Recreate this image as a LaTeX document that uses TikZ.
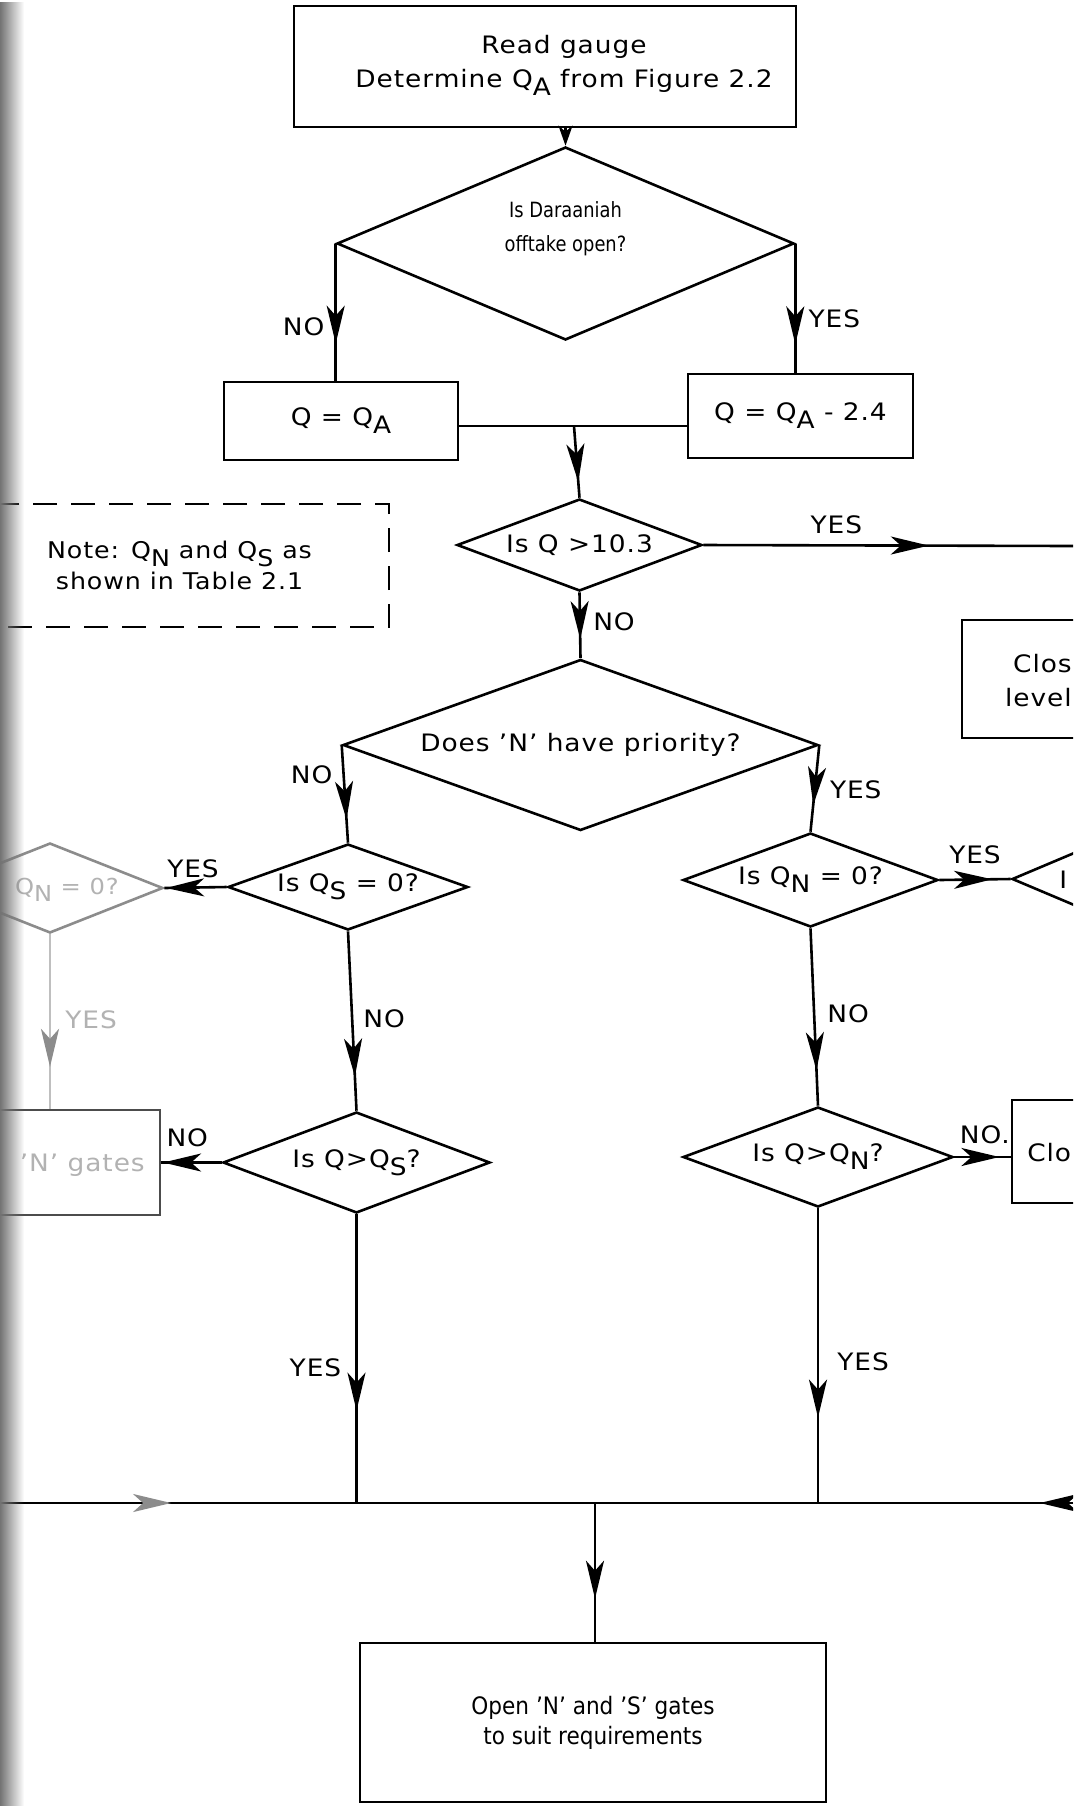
\documentclass[tikz,border=0pt]{standalone}
\usepackage{fontspec}
\setmainfont{DejaVu Sans}[FakeStretch=1.1,LetterSpace=4]
\usetikzlibrary{arrows.meta,shapes.geometric,decorations.markings,fadings}

\newcommand{\lsub}[1]{\raisebox{-0.6ex}{#1}}
\newcommand{\tightfont}[2]{\fontsize{#1}{17}\selectfont\addfontfeatures{LetterSpace=0,FakeStretch=#2}}

\begin{document}
\begin{tikzpicture}[x=0.5pt,y=-0.5pt,line width=1.3pt,inner sep=0pt,
    font=\fontsize{12}{17}\selectfont]
  \tikzset{
    box/.style={draw,rectangle,align=center},
    decision/.style={draw,diamond,align=center},
    faded/.style={draw=black!45,text=black!30},
    flowarrow/.style={postaction={decorate},decoration={markings,
      mark=at position #1 with {\arrow{Stealth[length=19pt,width=9pt,inset=5pt]}}}},
    fadedarrow/.style={postaction={decorate},decoration={markings,
      mark=at position #1 with {\arrow{Stealth[length=19pt,width=9pt,inset=5pt,color=black!45]}}}}
  }
  \useasboundingbox (0,0) rectangle (1073,1806);
  \clip (0,0) rectangle (1073,1806);

  % main column
  \node[box,minimum width=251pt,minimum height=60.5pt] (read) at (545,66.5) {};
  \node[align=center] (readtext) at (564,65) {Read gauge\\Determine Q\lsub{A} from Figure 2.2};
  \node[decision,minimum width=228.5pt,minimum height=96.5pt,aspect=2.37,
    font=\tightfont{10.5}{0.85}] (dar) at (565.5,243.5) {Is Daraaniah\\offtake open?\\\mbox{}};
  \node[box,minimum width=117pt,minimum height=39pt] (qa) at (341,421) {Q = Q\lsub{A}};
  \node[box,minimum width=112.5pt,minimum height=42pt] (qa24) at (800.5,416) {Q = Q\lsub{A} - 2.4};
  \coordinate (join) at (574,426);
  \node[decision,minimum width=122.5pt,minimum height=46pt,aspect=2.66] (q103) at (579.5,545) {Is Q >10.3};
  \coordinate (yesend) at (1073,546);
  \node[box,dashed,dash pattern=on 12pt off 7pt,minimum width=209.5pt,minimum height=61.5pt,
    font=\fontsize{11.5}{15.5}\selectfont] (note) at (179.5,565.5)
    {Note: Q\lsub{N} and Q\lsub{S} as\\shown in Table 2.1};
  \node[box,minimum width=100pt,minimum height=59pt] (closetop) at (1062,679) {};
  \node[anchor=east,align=right] (closetext) at (1073,681) {Clos\\level};
  \node[decision,minimum width=237.5pt,minimum height=85.5pt,aspect=2.78] (prio) at (580.5,745) {Does 'N' have priority?};

  % 'S' side
  \node[decision,minimum width=120pt,minimum height=43pt,aspect=2.79] (qs) at (348,887) {Is Q\lsub{S} = 0?};
  \node[decision,faded,minimum width=113pt,minimum height=45pt,aspect=2.51] (qnleft) at (50,888) {};
  \node[anchor=east,text=black!30,font=\fontsize{11}{13}\selectfont] (qnlefttext) at (120,890) {Q\lsub{N} = 0?};
  \node[decision,minimum width=133.5pt,minimum height=50.5pt,aspect=2.64] (qs2) at (356.5,1162.5) {Is Q>Q\lsub{S}?};
  \node[box,draw=black!70,minimum width=100pt,minimum height=52.5pt] (closeleft) at (60,1162.5) {};
  \node[anchor=east,text=black!30] (closelefttext) at (146,1165) {'N' gates};

  % 'N' side
  \node[decision,minimum width=127.5pt,minimum height=47pt,aspect=2.71] (qn) at (810.5,880) {Is Q\lsub{N} = 0?};
  \node[decision,minimum width=113pt,minimum height=48pt,aspect=2.35] (qsright) at (1125,879) {};
  \node[anchor=west] (qsrighttext) at (1058,880) {I};
  \node[decision,minimum width=135pt,minimum height=50pt,aspect=2.7] (qn2) at (818,1157) {Is Q>Q\lsub{N}?};
  \node[box,minimum width=100pt,minimum height=51.5pt] (closebot) at (1112,1151.5) {};
  \node[anchor=west] (closebottext) at (1026,1153) {Clo};

  % common exit
  \coordinate (botleft) at (0,1503);
  \coordinate (botright) at (1073,1503);
  \coordinate (sjoin) at (qs2.south |- botleft);
  \coordinate (njoin) at (qn2.south |- botleft);
  \coordinate (mjoin) at (595,1503);
  \node[box,minimum width=233pt,minimum height=79.5pt,font=\tightfont{12}{0.9}] (opengates) at (593,1722.5)
    {Open 'N' and 'S' gates\\[-2pt]to suit requirements};

  % connectors
  \draw[-{Stealth[length=10pt,width=7pt,inset=3pt]}] (read.south -| dar.north) -- (dar.north);
  \draw[flowarrow=0.73] (dar.west) -- (dar.west |- qa.north) node[pos=0.61,left=5pt]{NO};
  \draw[flowarrow=0.78] (dar.east) -- (dar.east |- qa24.north) node[pos=0.58,right=6pt]{YES};
  \draw (qa.east |- join) -- (qa24.west |- join);
  \draw[flowarrow=0.78] (join) -- (q103.north);
  \draw[flowarrow=0.61] (q103.east) -- (yesend) node[pos=0.36,above=5pt]{YES};
  \draw[flowarrow=0.71] (q103.south) -- (prio.north) node[pos=0.45,right=6pt]{NO};
  \draw[flowarrow=0.76] (prio.west) -- (qs.north) node[pos=0.3,left=5pt]{NO};
  \draw[flowarrow=0.69] (prio.east) -- (qn.north) node[pos=0.52,right=7pt]{YES};
  \draw[flowarrow=0.97] (qs.west) -- (qnleft.east) node[pos=0.54,above=4pt]{YES};
  \draw[flowarrow=0.74] (qn.east) -- (qsright.west) node[pos=0.5,above=7pt]{YES};
  \draw[black!25,fadedarrow=0.76] (qnleft.south) -- (qnleft.south |- closeleft.north)
    node[pos=0.49,right=7pt,text=black!30]{YES};
  \draw[flowarrow=0.81] (qs.south) -- (qs2.north) node[pos=0.49,right=5pt]{NO};
  \draw[flowarrow=0.8] (qn.south) -- (qn2.north) node[pos=0.48,right=6pt]{NO};
  \draw[flowarrow=0.97] (qs2.west) -- (closeleft.east) node[pos=0.57,above=7pt]{NO};
  \draw[flowarrow=0.8] (qn2.east) -- (qn2.east -| closebot.west) node[pos=0.54,above=6pt]{NO.};
  \draw[flowarrow=0.68] (qs2.south) -- (sjoin) node[pos=0.53,left=7pt]{YES};
  \draw[flowarrow=0.71] (qn2.south) -- (njoin) node[pos=0.52,right=9pt]{YES};
  \draw[fadedarrow=0.48] (botleft) -- (sjoin);
  \draw (sjoin) -- (njoin);
  \draw[flowarrow=0.13] (botright) -- (njoin);
  \draw[flowarrow=0.69] (mjoin) -- (mjoin |- opengates.north);

  % binding shadow of the scan
  \fill[black!55,path fading=east] (0,0) rectangle (24,1806);
\end{tikzpicture}
\end{document}
